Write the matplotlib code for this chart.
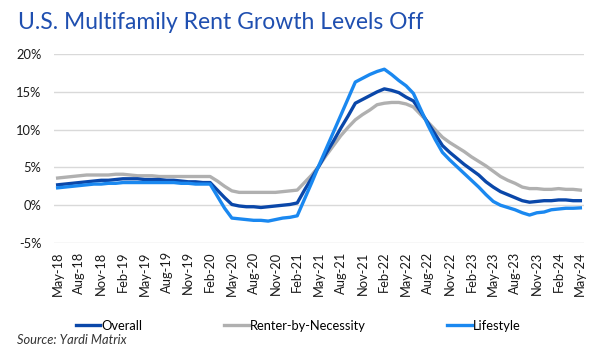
import numpy as np
import matplotlib
matplotlib.use("Agg")
import matplotlib.pyplot as plt
from matplotlib.ticker import FuncFormatter

plt.rcParams['font.family'] = ['Lato', 'DejaVu Sans']

# monthly rent growth, May-18 .. May-24 (%)
month_names = ['Jan', 'Feb', 'Mar', 'Apr', 'May', 'Jun',
               'Jul', 'Aug', 'Sep', 'Oct', 'Nov', 'Dec']
labels = []
for i in range(73):
    k = 4 + i
    labels.append('%s-%02d' % (month_names[k % 12], 18 + k // 12))

overall = [2.7, 2.8, 2.9, 3.0, 3.1, 3.2, 3.3, 3.3, 3.4, 3.5, 3.5, 3.5,
           3.4, 3.4, 3.4, 3.3, 3.3, 3.2, 3.1, 3.1, 3.0, 3.0,
           2.0, 1.0, 0.1, -0.1, -0.2, -0.2, -0.3, -0.2, -0.1, 0.0, 0.1, 0.3,
           2.0, 3.6, 5.2, 6.9, 8.5, 10.2, 11.8, 13.5, 14.0, 14.5, 15.0, 15.4,
           15.2, 14.9, 14.3, 13.8, 12.4, 10.9, 9.4, 7.9, 7.0, 6.2, 5.4, 4.7,
           4.0, 3.1, 2.4, 1.8, 1.4, 1.0, 0.6, 0.4, 0.5, 0.6, 0.6, 0.7,
           0.7, 0.6, 0.6]

rbn = [3.6, 3.7, 3.8, 3.9, 4.0, 4.0, 4.0, 4.0, 4.1, 4.1, 4.0, 3.9,
       3.9, 3.9, 3.8, 3.8, 3.8, 3.8, 3.8, 3.8, 3.8, 3.8,
       3.2, 2.5, 1.9, 1.7, 1.7, 1.7, 1.7, 1.7, 1.7, 1.8, 1.9, 2.0,
       3.0, 4.0, 5.2, 6.6, 7.9, 9.2, 10.3, 11.3, 12.0, 12.6, 13.3, 13.5,
       13.6, 13.6, 13.4, 13.0, 12.0, 11.0, 10.0, 9.0, 8.3, 7.7, 7.1, 6.4,
       5.8, 5.2, 4.5, 3.8, 3.3, 2.9, 2.4, 2.2, 2.2, 2.1, 2.1, 2.2,
       2.1, 2.1, 2.0]

lifestyle = [2.3, 2.4, 2.5, 2.6, 2.7, 2.8, 2.8, 2.9, 2.9, 3.0, 3.0, 3.0,
             3.0, 3.0, 3.0, 3.0, 3.0, 2.9, 2.9, 2.8, 2.8, 2.8,
             1.2, -0.4, -1.7, -1.8, -1.9, -2.0, -2.0, -2.1, -1.9, -1.7, -1.6, -1.4,
             0.8, 3.0, 5.3, 7.5, 9.7, 11.9, 14.1, 16.3, 16.8, 17.3, 17.7, 18.0,
             17.3, 16.5, 15.8, 14.8, 12.7, 10.6, 8.7, 7.0, 6.0, 5.1, 4.2, 3.3,
             2.4, 1.4, 0.5, 0.0, -0.3, -0.6, -1.0, -1.3, -1.0, -0.9, -0.6, -0.5,
             -0.4, -0.4, -0.35]

x = np.arange(len(labels))

fig = plt.figure(figsize=(5.89, 3.49), dpi=100)
ax = fig.add_axes([0.0917, 0.3037, 0.8998, 0.5413])

ax.plot(x, overall, color='#0a47a9', lw=2.4, label='Overall', zorder=3)
ax.plot(x, rbn, color='#b0b0b0', lw=2.4, label='Renter-by-Necessity', zorder=2)
ax.plot(x, lifestyle, color='#1a88f0', lw=2.4, label='Lifestyle', zorder=4)

ax.set_ylim(-5, 20)
ax.set_xlim(-0.5, 72.5)
ax.set_yticks([-5, 0, 5, 10, 15, 20])
ax.yaxis.set_major_formatter(FuncFormatter(lambda v, p: '%d%%' % v))
ax.set_xticks(x[::3])
ax.set_xticklabels(labels[::3], rotation=90)
ax.tick_params(length=0, labelsize=9.3, colors='#1a1a1a')
ax.tick_params(axis='y', pad=9)
ax.tick_params(axis='x', pad=6)
ax.grid(axis='y', color='#d9d9d9', lw=1)
ax.set_axisbelow(True)
for s in ax.spines.values():
    s.set_visible(False)

fig.text(0.03, 0.935, 'U.S. Multifamily Rent Growth Levels Off', fontsize=16.5,
         color='#1f4fb0', va='center', ha='left')

fig.legend(loc='center left', bbox_to_anchor=(0.12, 0.066), ncol=3, frameon=False,
           fontsize=9.3, handlelength=1.9, handletextpad=0.1, columnspacing=6.3,
           borderaxespad=0)

fig.text(0.029, 0.026, 'Source: Yardi Matrix', fontsize=9.3, style='italic',
         color='#333333', va='center')

fig.savefig('out.png', dpi=100)
